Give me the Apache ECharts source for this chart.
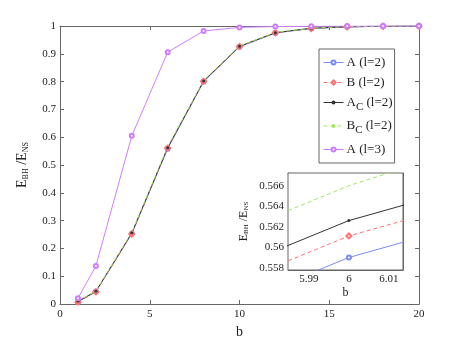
<!DOCTYPE html>
<html>
<head>
<meta charset="utf-8">
<script src="https://cdn.jsdelivr.net/npm/echarts@6/dist/echarts.min.js"></script>
<style>
  html, body { margin: 0; padding: 0; background: #fff; }
  #chart { width: 463px; height: 344px; }
</style>
</head>
<body>
<div id="chart"></div>
<script>
// b values
var bVals = [1, 2, 4, 6, 8, 10, 12, 14, 16, 18, 20];
// E_BH / E_NS
var aL2 = [0.008, 0.045, 0.253, 0.559, 0.800, 0.925, 0.975, 0.991, 0.997, 0.999, 1.0];
var bL2 = [0.007, 0.044, 0.252, 0.561, 0.801, 0.926, 0.976, 0.991, 0.997, 0.999, 1.0];
var acL2 = [0.010, 0.046, 0.256, 0.5626, 0.802, 0.927, 0.976, 0.992, 0.997, 0.999, 1.0];
var bcL2 = [0.011, 0.047, 0.258, 0.566, 0.804, 0.928, 0.977, 0.992, 0.998, 0.999, 1.0];
var aL3 = [0.021, 0.137, 0.605, 0.906, 0.982, 0.995, 0.998, 0.999, 1.0, 1.0, 1.0];

// inset (zoom near b = 6)
var bInset = [5.98, 6, 6.02];
var aInset = [0.5558, 0.5590, 0.5612];
var bInsetV = [0.5579, 0.5611, 0.5633];
var acInset = [0.5594, 0.5626, 0.5648];
var bcInset = [0.5628, 0.5660, 0.5685];

var insetXTicks = [5.99, 6, 6.01];
var insetYTicks = [0.558, 0.56, 0.562, 0.564, 0.566];

var names = ["A (l=2)", "B (l=2)", "A_C (l=2)", "B_C (l=2)", "A (l=3)"];
var colors = ["#7b8cf2", "#ff7070", "#333333", "#a0e860", "#cf7dff"];

var serif = "'Liberation Serif', 'Times New Roman', serif";

function pairs(xs, ys) {
  var out = [];
  for (var i = 0; i < xs.length; i++) out.push([xs[i], ys[i]]);
  return out;
}
// only the middle point of the inset gets a marker
function insetPairs(xs, ys) {
  var out = [];
  for (var i = 0; i < xs.length; i++) {
    var item = { value: [xs[i], ys[i]] };
    if (xs[i] !== 6) item.symbol = "none";
    out.push(item);
  }
  return out;
}

var axisCol = "#666";
function frameAxis(extra) {
  var base = {
    axisLine: { show: true, onZero: false, lineStyle: { color: axisCol, width: 1 } },
    axisTick: { show: true, inside: true, length: 4, lineStyle: { color: axisCol } },
    axisLabel: { show: false },
    splitLine: { show: false }
  };
  for (var k in extra) base[k] = extra[k];
  return base;
}

var chart = echarts.init(document.getElementById("chart"), null, { renderer: "canvas" });

var mainSeries = [
  { name: names[0], data: pairs(bVals, aL2), symbol: "emptyCircle", symbolSize: 4,
    lineStyle: { color: colors[0], width: 1 }, itemStyle: { color: colors[0], borderWidth: 1 } },
  { name: names[1], data: pairs(bVals, bL2), symbol: "emptyDiamond", symbolSize: 5,
    lineStyle: { color: colors[1], width: 1, type: [4, 3] }, itemStyle: { color: colors[1], borderWidth: 1 } },
  { name: names[2], data: pairs(bVals, acL2), symbol: "circle", symbolSize: 3,
    lineStyle: { color: colors[2], width: 1 }, itemStyle: { color: colors[2] } },
  { name: names[3], data: pairs(bVals, bcL2), symbol: "none",
    lineStyle: { color: colors[3], width: 1, type: [4, 3] }, itemStyle: { color: colors[3] } },
  { name: names[4], data: pairs(bVals, aL3), symbol: "emptyCircle", symbolSize: 4,
    lineStyle: { color: colors[4], width: 1 }, itemStyle: { color: colors[4], borderWidth: 1 } }
];
mainSeries.forEach(function (s) {
  s.type = "line";
  s.xAxisIndex = 0;
  s.yAxisIndex = 0;
  s.showSymbol = s.symbol !== "none";
  s.animation = false;
});

var insetData = [aInset, bInsetV, acInset, bcInset];
var insetSeries = [];
for (var i = 0; i < 4; i++) {
  insetSeries.push({
    type: "line",
    name: names[i] + " inset",
    xAxisIndex: 2,
    yAxisIndex: 3,
    data: insetPairs(bInset, insetData[i]),
    symbol: mainSeries[i].symbol,
    symbolSize: mainSeries[i].symbolSize,
    lineStyle: mainSeries[i].lineStyle,
    itemStyle: mainSeries[i].itemStyle,
    clip: true,
    animation: false,
    z: 5
  });
}

var labelFont = { fontFamily: serif, fontSize: 11, color: "#222" };
var nameRich = {
  e: { fontFamily: serif, fontSize: 14, color: "#222" },
  s: { fontFamily: serif, fontSize: 8, color: "#222", verticalAlign: "bottom", padding: [7, 0, 0, 0] }
};
var nameRichSmall = {
  e: { fontFamily: serif, fontSize: 12, color: "#222" },
  s: { fontFamily: serif, fontSize: 7, color: "#222", verticalAlign: "bottom", padding: [6, 0, 0, 0] }
};

var option = {
  backgroundColor: "#fff",
  animation: false,
  grid: [
    { left: 60, right: 44, top: 26, bottom: 38 },
    { left: 288, right: 60, top: 173, bottom: 74, show: true, backgroundColor: "#fff",
      borderColor: axisCol, borderWidth: 1, z: 4 }
  ],
  legend: {
    data: names,
    orient: "vertical",
    left: 319,
    top: 49,
    padding: [7, 2, 7, 4],
    itemGap: 7,
    itemWidth: 20,
    itemHeight: 5,
    lineStyle: { width: 1 },
    backgroundColor: "#fff",
    borderColor: axisCol,
    borderWidth: 1,
    borderRadius: 0,
    formatter: function (name) {
      if (name.indexOf("_C") > 0) {
        return "{t|" + name.charAt(0) + "}{sub|C}{t| (l=2)}";
      }
      return "{t|" + name + "}";
    },
    textStyle: {
      fontFamily: serif,
      fontSize: 13,
      color: "#222",
      padding: [0, 0, 0, -2],
      rich: {
        t: { fontFamily: serif, fontSize: 13, color: "#222" },
        sub: { fontFamily: serif, fontSize: 11, color: "#222", verticalAlign: "bottom", padding: [9, 0, 0, 0] }
      }
    }
  },
  xAxis: [
    {
      type: "value", gridIndex: 0, min: 0, max: 20, interval: 5,
      name: "b", nameLocation: "middle", nameGap: 18,
      nameTextStyle: { fontFamily: serif, fontSize: 14, color: "#222" },
      axisLine: { show: true, onZero: false, lineStyle: { color: axisCol } },
      axisTick: { show: true, inside: true, length: 4, lineStyle: { color: axisCol } },
      axisLabel: Object.assign({ margin: 5 }, labelFont),
      splitLine: { show: false }
    },
    frameAxis({ type: "value", gridIndex: 0, min: 0, max: 20, interval: 5, position: "top" }),
    {
      type: "value", gridIndex: 1, min: 5.9848, max: 6.0135,
      name: "b", nameLocation: "middle", nameGap: 17,
      nameTextStyle: { fontFamily: serif, fontSize: 12, color: "#222" },
      axisLine: { show: true, onZero: false, lineStyle: { color: axisCol } },
      axisTick: { show: true, inside: true, length: 4, customValues: insetXTicks, lineStyle: { color: axisCol } },
      axisLabel: Object.assign({ margin: 4, customValues: insetXTicks,
        formatter: function (v) { return String(+v.toFixed(2)); } }, labelFont),
      splitLine: { show: false }
    },
    frameAxis({ type: "value", gridIndex: 1, min: 5.9848, max: 6.0135, position: "top",
      axisTick: { show: true, inside: true, length: 4, customValues: insetXTicks, lineStyle: { color: axisCol } } })
  ],
  yAxis: [
    {
      type: "value", gridIndex: 0, min: 0, max: 1, interval: 0.1,
      name: "{e|E}{s|BH}{e| /E}{s|NS}", nameLocation: "middle", nameGap: 30, nameRotate: 90,
      nameTextStyle: { rich: nameRich },
      axisLine: { show: true, onZero: false, lineStyle: { color: axisCol } },
      axisTick: { show: true, inside: true, length: 4, lineStyle: { color: axisCol } },
      axisLabel: Object.assign({ margin: 4 }, labelFont),
      splitLine: { show: false }
    },
    frameAxis({ type: "value", gridIndex: 0, min: 0, max: 1, interval: 0.1, position: "right" }),
    frameAxis({ type: "value", gridIndex: 1, min: 0.55778, max: 0.56724, position: "right",
      axisTick: { show: true, inside: true, length: 4, customValues: insetYTicks, lineStyle: { color: axisCol } } }),
    {
      type: "value", gridIndex: 1, min: 0.55778, max: 0.56724,
      name: "{e|E}{s|BH}{e| /E}{s|NS}", nameLocation: "middle", nameGap: 38, nameRotate: 90,
      nameTextStyle: { rich: nameRichSmall },
      axisLine: { show: true, onZero: false, lineStyle: { color: axisCol } },
      axisTick: { show: true, inside: true, length: 4, customValues: insetYTicks, lineStyle: { color: axisCol } },
      axisLabel: Object.assign({ margin: 4, customValues: insetYTicks,
        formatter: function (v) { return String(+v.toFixed(3)); } }, labelFont),
      splitLine: { show: false }
    }
  ],
  series: mainSeries.concat(insetSeries)
};

chart.setOption(option);
</script>
</body>
</html>
